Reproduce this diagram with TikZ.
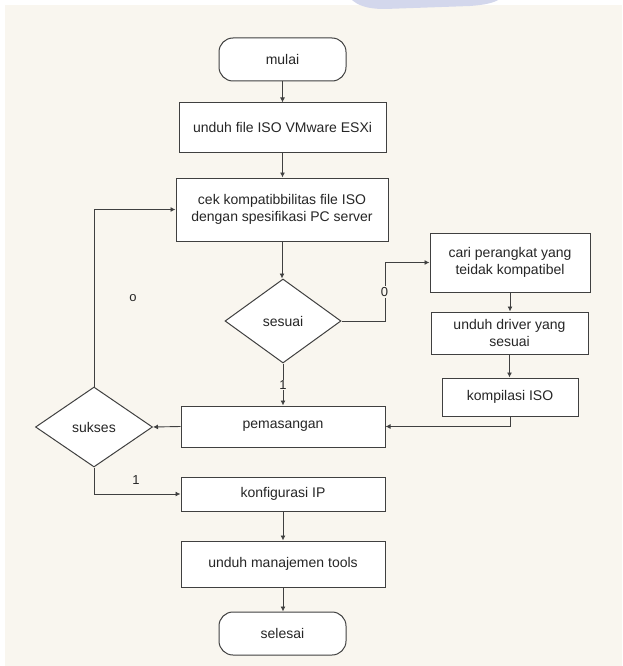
\documentclass[tikz,border=0pt]{standalone}
\usepackage{fontspec}
\setmainfont{Liberation Sans}
\usetikzlibrary{shapes.geometric,arrows.meta}
\definecolor{bgbeige}{HTML}{F9F6EF}
\definecolor{linec}{HTML}{404040}
\definecolor{wmblue}{HTML}{D3D7EC}
\tikzset{
  every node/.style={font=\fontsize{14}{17}\selectfont, text=black!85},
  procbox/.style={draw=linec, line width=1pt, fill=white, rectangle, inner sep=0pt, align=center},
  termbox/.style={draw=linec, line width=1pt, fill=white, rectangle, rounded corners=14pt, inner sep=0pt, minimum width=127pt, minimum height=43pt},
  decbox/.style={draw=linec, line width=1pt, fill=white, diamond, inner sep=0pt},
  conn/.style={draw=linec, line width=0.9pt, -{Latex[length=5pt,width=5pt]}},
  lbl/.style={fill=bgbeige, inner sep=1pt, font=\fontsize{13}{15}\selectfont}
}
\begin{document}
\begin{tikzpicture}[x=1pt,y=-1pt]
\useasboundingbox (0,0) rectangle (622,666);
\fill[white] (0,0) rectangle (622,666);
\fill[bgbeige] (5,5) rectangle (622,666);
\fill[wmblue] (352,0) .. controls (358,5) and (366,9) .. (385,9) -- (470,6) .. controls (484,5) and (493,3) .. (498,0) -- cycle;

\node[termbox] (mulai) at (282.5,59.5) {mulai};
\node[procbox, minimum width=207pt, minimum height=49pt] (iso) at (282.5,127.5) {unduh file ISO VMware ESXi};
\node[procbox, minimum width=212pt, minimum height=63pt] (cek) at (282,209.5) {cek kompatibbilitas file ISO\\dengan spesifikasi PC server};
\node[decbox, minimum width=116pt, minimum height=84pt] (sesuai) at (283,321) {sesuai};
\node[procbox, minimum width=160pt, minimum height=59pt] (cari) at (510,262.5) {cari perangkat yang\\teidak kompatibel};
\node[procbox, minimum width=157pt, minimum height=42pt] (driver) at (509.5,333) {unduh driver yang\\sesuai};
\node[procbox, minimum width=136pt, minimum height=38pt] (kompilasi) at (510,397) {kompilasi ISO};
\node[procbox, minimum width=204pt, minimum height=41pt] (pasang) at (283,426.5) {pemasangan};
\node[decbox, minimum width=117pt, minimum height=80pt] (sukses) at (94,427) {sukses};
\node[procbox, minimum width=204pt, minimum height=34pt] (konfig) at (283,494) {konfigurasi IP};
\node[procbox, minimum width=204pt, minimum height=46pt] (tools) at (283,564) {unduh manajemen tools};
\node[termbox] (selesai) at (282.5,633.5) {selesai};

\coordinate (j0) at (385,321);

\draw[conn] (mulai.south) -- (mulai.south |- iso.north);
\draw[conn] (iso.south) -- (iso.south |- cek.north);
\draw[conn] (cek.south) -- (cek.south |- sesuai.north);
\draw[conn] (sesuai.east) -- (j0) |- (cari.west);
\draw[conn] (cari.south) -- (cari.south |- driver.north);
\draw[conn] (driver.south) -- (driver.south |- kompilasi.north);
\draw[conn] (kompilasi.south) |- (pasang.east);
\draw[conn] (sesuai.south) -- (sesuai.south |- pasang.north);
\draw[conn] (pasang.west) -- (sukses.east);
\draw[conn] (sukses.north) |- (cek.west);
\draw[conn] (sukses.south) |- (konfig.west);
\draw[conn] (konfig.south) -- (konfig.south |- tools.north);
\draw[conn] (tools.south) -- (tools.south |- selesai.north);

\node[lbl] (l0) at (384.5,292) {0};
\node[lbl] (l1) at (283,385) {1};
\node[lbl] (lo) at (133,298) {o};
\node[lbl] (l1b) at (136,480) {1};
\end{tikzpicture}
\end{document}
